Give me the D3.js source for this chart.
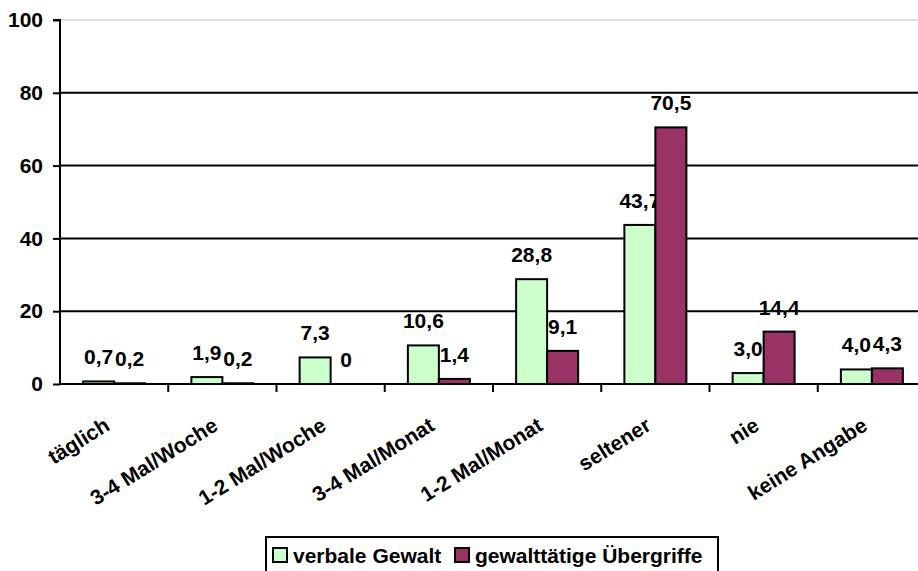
<!DOCTYPE html>
<html>
<head>
<meta charset="utf-8">
<script src="https://cdn.jsdelivr.net/npm/d3@7"></script>
<style>
  html, body { margin: 0; padding: 0; background: #fff; }
  svg { display: block; }
  text { font-family: "Liberation Sans", Arial, sans-serif; font-weight: bold; fill: #000; }
</style>
</head>
<body>
<svg id="chart" width="918" height="571"></svg>
<script>
const categories = ["täglich", "3-4 Mal/Woche", "1-2 Mal/Woche", "3-4 Mal/Monat", "1-2 Mal/Monat", "seltener", "nie", "keine Angabe"];
const seriesNames = ["verbale Gewalt", "gewalttätige Übergriffe"];
const seriesColors = ["#CCFFCC", "#993366"];
const verbaleGewalt = [0.7, 1.9, 7.3, 10.6, 28.8, 43.7, 3.0, 4.0];
const gewaltUebergriffe = [0.2, 0.2, 0, 1.4, 9.1, 70.5, 14.4, 4.3];
const valueLabelsVerbal = ["0,7", "1,9", "7,3", "10,6", "28,8", "43,7", "3,0", "4,0"];
const valueLabelsGewalt = ["0,2", "0,2", "0", "1,4", "9,1", "70,5", "14,4", "4,3"];
const yTicks = [0, 20, 40, 60, 80, 100];

(function () {
const seriesValues = [verbaleGewalt, gewaltUebergriffe];
const seriesLabels = [valueLabelsVerbal, valueLabelsGewalt];
const FS = 21;

const svg = d3.select("#chart");
const pLeft = 60, pRight = 926, pTop = 20, pBottom = 384;

const x = d3.scaleBand().domain(categories).range([pLeft, pRight]).padding(0);
const bw = x.bandwidth();
const barW = 31;
const po = (bw / barW - 2) / 2;
const xs = d3.scaleBand().domain(seriesNames).range([0, bw]).paddingInner(0).paddingOuter(po);
const y = d3.scaleLinear().domain([0, 100]).range([pBottom, pTop]);

// gridlines
svg.append("g").selectAll("line").data(yTicks.filter(t => t > 0)).join("line")
  .attr("x1", pLeft).attr("x2", 918)
  .attr("y1", d => y(d)).attr("y2", d => y(d))
  .attr("stroke", d => d === 100 ? "#c0c0c0" : "#000")
  .attr("stroke-width", d => d === 100 ? 1 : 2);

// bars
const groups = svg.append("g").selectAll("g").data(categories).join("g")
  .attr("transform", c => `translate(${x(c)},0)`);

seriesNames.forEach((s, si) => {
  groups.append("rect")
    .attr("x", xs(s))
    .attr("width", xs.bandwidth())
    .attr("y", (c, i) => y(seriesValues[si][i]))
    .attr("height", (c, i) => pBottom - y(seriesValues[si][i]))
    .attr("fill", seriesColors[si])
    .attr("stroke", "#000")
    .attr("stroke-width", 2);
  groups.append("text")
    .attr("x", xs(s) + xs.bandwidth() / 2)
    .attr("y", (c, i) => y(seriesValues[si][i]) - 17)
    .attr("text-anchor", "middle")
    .attr("font-size", FS)
    .text((c, i) => seriesLabels[si][i]);
});

// y axis
const yAxis = d3.axisLeft(y).tickValues(yTicks).tickSize(7).tickPadding(10).tickFormat(d3.format("d"));
const gy = svg.append("g").attr("transform", `translate(${pLeft},0)`).call(yAxis);
gy.select(".domain").attr("stroke", "#000").attr("stroke-width", 2).attr("d", `M-7,${pTop}H0V${pBottom}`);
gy.selectAll(".tick line").attr("stroke", "#000").attr("stroke-width", 2);
gy.selectAll(".tick text").attr("font-size", FS).attr("font-family", null).attr("fill", "#000");

// x axis
const xAxis = d3.axisBottom(x).tickSize(0).tickFormat("");
const gx = svg.append("g").attr("transform", `translate(0,${pBottom})`).call(xAxis);
gx.select(".domain").attr("stroke", "#000").attr("stroke-width", 2).attr("d", `M${pLeft},0H918`);
gx.append("g").selectAll("line").data(categories.slice(1)).join("line")
  .attr("x1", c => x(c)).attr("x2", c => x(c))
  .attr("y1", 0).attr("y2", 8)
  .attr("stroke", "#000").attr("stroke-width", 2);

// category labels
svg.append("g").selectAll("text").data(categories).join("text")
  .attr("transform", c => `translate(${x(c) + bw / 2 - 3},429) rotate(-32)`)
  .attr("text-anchor", "end")
  .attr("font-size", FS)
  .text(c => c);

// legend
const lg = svg.append("g");
lg.append("rect").attr("x", 266).attr("y", 537).attr("width", 452).attr("height", 40)
  .attr("fill", "#fff").attr("stroke", "#000").attr("stroke-width", 2);
const legendX = [273, 455];
seriesNames.forEach((s, i) => {
  lg.append("rect").attr("x", legendX[i]).attr("y", 548).attr("width", 14).attr("height", 14)
    .attr("fill", seriesColors[i]).attr("stroke", "#000").attr("stroke-width", 2);
  lg.append("text").attr("x", legendX[i] + 20).attr("y", 563).attr("font-size", FS).text(s);
});
})();
</script>
</body>
</html>
